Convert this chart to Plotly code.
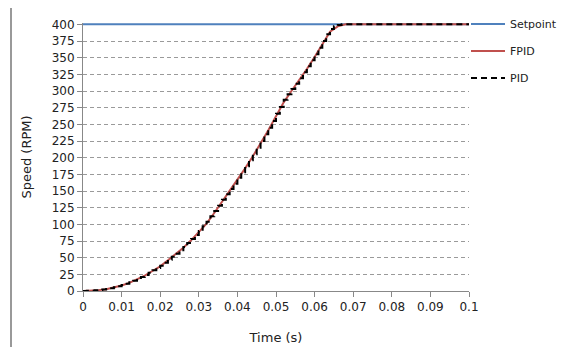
import plotly.graph_objects as go

# ---- data ----
time_pid = [i / 1000 for i in range(101)]
pid_rpm = [0, 0.2, 0.5, 1, 1.5, 2.2, 3, 4.2, 5.5, 7.2,
           9, 11, 13, 15.5, 18, 21, 24, 27.5, 31, 34.5,
           38, 42.5, 47, 51.5, 56, 61, 66, 72, 78, 84,
           90, 97, 104, 112, 120, 128, 137, 145, 153, 161,
           170, 178, 187, 196, 205, 215, 225, 235, 245, 255,
           266, 276, 287, 295, 303, 311, 319, 328, 337, 346,
           355, 365, 375, 385, 393, 397, 399, 400, 400, 400,
           400, 400, 400, 400, 400, 400, 400, 400, 400, 400,
           400, 400, 400, 400, 400, 400, 400, 400, 400, 400,
           400, 400, 400, 400, 400, 400, 400, 400, 400, 400,
           400]

time_fpid = [i / 500 for i in range(51)]
fpid_rpm = [0, 0.4, 1.3, 2.7, 5, 8.3, 12.2, 17, 23, 30,
            37, 46, 55, 65, 76, 88, 101, 117, 134, 150,
            166, 184, 202, 221, 241, 262, 283, 300, 316, 333,
            351, 371, 389, 397, 400, 400, 400, 400, 400, 400,
            400, 400, 400, 400, 400, 400, 400, 400, 400, 400,
            400]

time_setpoint = [0, 0.1]
setpoint_rpm = [400, 400]

x_ticks = [0, 0.01, 0.02, 0.03, 0.04, 0.05, 0.06, 0.07, 0.08, 0.09, 0.1]
x_tick_labels = ["0", "0.01", "0.02", "0.03", "0.04", "0.05", "0.06", "0.07", "0.08", "0.09", "0.1"]
y_ticks = [0, 25, 50, 75, 100, 125, 150, 175, 200, 225, 250, 275, 300, 325, 350, 375, 400]

FONT = "DejaVu Sans"
TXT = "#222222"

# page has an 8px body margin, so the figure is 559x339 and offset by 8px
W, H = 559, 339

fig = go.Figure()
fig.add_trace(go.Scatter(x=time_setpoint, y=setpoint_rpm, mode="lines", name="Setpoint",
                         line=dict(color="#4F81BD", width=2), legend="legend"))
fig.add_trace(go.Scatter(x=time_fpid, y=fpid_rpm, mode="lines", name="FPID",
                         line=dict(color="#C0504D", width=2), legend="legend2"))
fig.add_trace(go.Scatter(x=time_pid, y=pid_rpm, mode="lines", name="PID",
                         line=dict(color="black", width=2, dash="6px,4px", shape="hv"),
                         legend="legend3"))

leg_common = dict(xref="container", yref="container", xanchor="left", yanchor="middle",
                  bgcolor="rgba(0,0,0,0)", font=dict(family=FONT, size=11, color=TXT),
                  itemwidth=34, borderwidth=0)

fig.update_layout(
    width=W, height=H,
    showlegend=True,
    margin=dict(l=75, r=98, t=15, b=56, autoexpand=False),
    paper_bgcolor="white", plot_bgcolor="white",
    font=dict(family=FONT, size=12, color=TXT),
    legend=dict(x=458 / W, y=1 - 16 / H, **leg_common),
    legend2=dict(x=458 / W, y=1 - 43 / H, **leg_common),
    legend3=dict(x=458 / W, y=1 - 70 / H, **leg_common),
    xaxis=dict(range=[0, 0.1], tickvals=x_ticks, ticktext=x_tick_labels, automargin=False,
               showgrid=False, zeroline=False, showline=True, linecolor="#888888",
               linewidth=1, ticks="outside", ticklen=5, tickcolor="#888888",
               title=dict(text="Time (s)", font=dict(family=FONT, size=13, color=TXT), standoff=19),
               tickfont=dict(family=FONT, size=12, color=TXT)),
    yaxis=dict(range=[0, 402], tickvals=y_ticks, automargin=False,
               showgrid=True, gridcolor="#9a9a9a", griddash="4px,3px", gridwidth=1,
               zeroline=False, showline=True, linecolor="#888888", linewidth=1,
               ticks="outside", ticklen=5, tickcolor="#888888",
               title=dict(text="Speed (RPM)", font=dict(family=FONT, size=13, color=TXT), standoff=17),
               tickfont=dict(family=FONT, size=12, color=TXT)),
    shapes=[
        dict(type="line", xref="paper", yref="paper", x0=-72 / 386, x1=-72 / 386,
             y0=1.1, y1=-0.3, line=dict(color="#999999", width=2)),
    ],
)

fig.write_html("out.html")
